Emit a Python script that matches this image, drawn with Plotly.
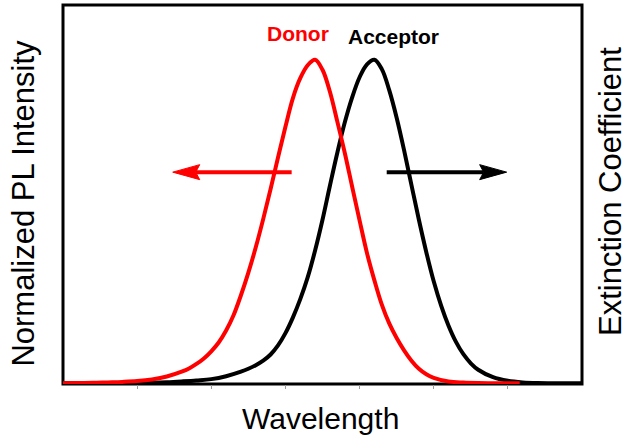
import plotly.graph_objects as go

# Donor photoluminescence spectrum (normalized)
donor_wl = [400, 410, 420, 430, 440, 450, 460, 470, 480, 485, 490, 495, 500, 505,
            510, 515, 520, 525, 530, 535, 540, 545, 550, 555, 560, 565, 570, 575,
            580, 585, 590, 595, 600, 605, 610, 615, 620, 625, 630, 635, 640, 645,
            650, 660, 670, 680, 690, 700, 708]
donor_int = [0.000, 0.001, 0.0015, 0.003, 0.0045, 0.007, 0.012, 0.021, 0.036, 0.046,
             0.060, 0.077, 0.099, 0.126, 0.163, 0.210, 0.272, 0.342, 0.420, 0.507,
             0.600, 0.697, 0.792, 0.880, 0.942, 0.982, 0.999, 0.968, 0.900, 0.808,
             0.712, 0.607, 0.503, 0.402, 0.318, 0.243, 0.185, 0.140, 0.102, 0.070,
             0.045, 0.028, 0.017, 0.006, 0.0025, 0.001, 0.0005, 0.000, 0.000]

# Acceptor absorption (extinction coefficient, normalized)
acceptor_wl = [400, 420, 440, 460, 470, 480, 490, 500, 510, 520, 525, 530, 535, 540,
               545, 550, 555, 560, 565, 570, 575, 580, 585, 590, 595, 600, 605, 610,
               615, 620, 625, 630, 635, 640, 645, 650, 655, 660, 665, 670, 675, 680,
               690, 700, 710, 720, 730, 740, 750]
acceptor_ext = [0.000, 0.0005, 0.001, 0.002, 0.0035, 0.006, 0.009, 0.013, 0.022, 0.036,
                0.045, 0.056, 0.070, 0.089, 0.117, 0.155, 0.203, 0.260, 0.327, 0.410,
                0.505, 0.610, 0.712, 0.805, 0.883, 0.945, 0.985, 0.999, 0.970, 0.905,
                0.820, 0.720, 0.612, 0.505, 0.405, 0.315, 0.240, 0.178, 0.128, 0.090,
                0.062, 0.042, 0.019, 0.008, 0.003, 0.001, 0.0005, 0.000, 0.000]

# Arrows pointing each curve to its own axis: (tail, tip, level, colour)
arrows = [(554.2, 474.0, 0.652, "#ff0000"),
          (618.3, 699.2, 0.652, "#000000")]

FONT = "Liberation Sans, Arial, Helvetica, sans-serif"
X_RANGE = [400, 750]
Y_RANGE = [-0.002, 1.168]

fig = go.Figure()
fig.add_trace(go.Scatter(x=acceptor_wl, y=acceptor_ext, mode="lines",
                         line=dict(color="#000000", width=4, shape="spline", smoothing=1.0),
                         name="Acceptor", hoverinfo="skip"))
fig.add_trace(go.Scatter(x=donor_wl, y=donor_int, mode="lines",
                         line=dict(color="#ff0000", width=4, shape="spline", smoothing=1.0),
                         name="Donor", hoverinfo="skip"))

# plot frame
fig.add_shape(type="rect", xref="paper", yref="paper", x0=0, x1=1, y0=0, y1=1,
              line=dict(color="#000000", width=3), layer="below")

# arrows: shaft plus a slightly notched head
px_per_nm = 519 / (X_RANGE[1] - X_RANGE[0])
y_per_px = (Y_RANGE[1] - Y_RANGE[0]) / 379
head_len = 27 / px_per_nm
notch_len = 23 / px_per_nm
head_half = 7.5 * y_per_px
for tail, tip, level, col in arrows:
    d = 1 if tip > tail else -1
    back = tip - d * head_len
    notch = tip - d * notch_len
    fig.add_shape(type="line", xref="x", yref="y", x0=tail, x1=notch, y0=level, y1=level,
                  line=dict(color=col, width=4))
    fig.add_shape(type="path", xref="x", yref="y",
                  path=(f"M {tip},{level} L {back},{level + head_half} "
                        f"L {notch},{level} L {back},{level - head_half} Z"),
                  fillcolor=col, line=dict(color=col, width=1))

# curve labels
fig.add_annotation(text="<b>Donor</b>", xref="x", yref="paper", x=558.7, y=0.9235,
                   xanchor="center", yanchor="middle", showarrow=False,
                   font=dict(family=FONT, size=21, color="#ff0000"))
fig.add_annotation(text="<b>Acceptor</b>", xref="x", yref="paper", x=623.0, y=0.918,
                   xanchor="center", yanchor="middle", showarrow=False,
                   font=dict(family=FONT, size=21, color="#000000"))

# axis titles
fig.add_annotation(text="Normalized PL Intensity", xref="paper", yref="paper",
                   x=-0.0751, y=0.476, textangle=-90, showarrow=False,
                   xanchor="center", yanchor="middle",
                   font=dict(family=FONT, size=31, color="#000000"))
fig.add_annotation(text="Extinction Coefficient", xref="paper", yref="paper",
                   x=1.0559, y=0.5066, textangle=-90, showarrow=False,
                   xanchor="center", yanchor="middle",
                   font=dict(family=FONT, size=31, color="#000000"))
fig.add_annotation(text="Wavelength", xref="paper", yref="paper",
                   x=0.497, y=-0.092, showarrow=False,
                   xanchor="center", yanchor="middle",
                   font=dict(family=FONT, size=30, color="#000000"))

fig.update_xaxes(range=X_RANGE, showgrid=False, zeroline=False, showline=False,
                 tickmode="array", tickvals=[450, 500, 550, 600, 650, 700],
                 ticks="outside", ticklen=4, tickwidth=1, tickcolor="#9a9a9a",
                 showticklabels=False)
fig.update_yaxes(range=Y_RANGE, showgrid=False, zeroline=False, showline=False,
                 ticks="", showticklabels=False)
fig.update_layout(width=628, height=442, margin=dict(l=63, r=46, t=5, b=58),
                  paper_bgcolor="white", plot_bgcolor="white", showlegend=False)

fig.write_html("out.html")
